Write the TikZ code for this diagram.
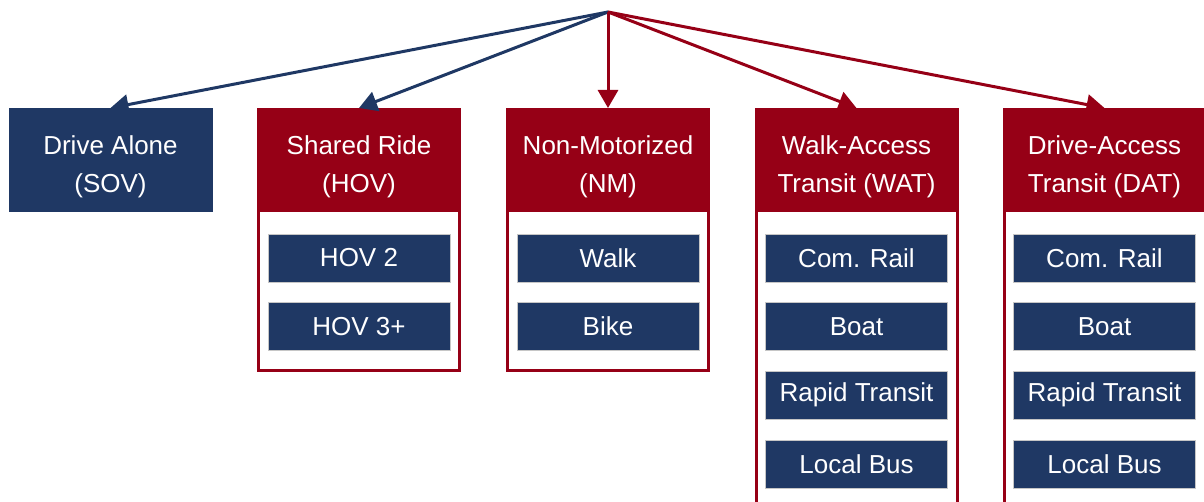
\documentclass[tikz,border=0pt]{standalone}
\usepackage{fontspec}
\setmainfont{Liberation Sans}
\usetikzlibrary{arrows.meta,positioning}
\definecolor{navy}{RGB}{31,56,100}
\definecolor{wine}{RGB}{150,0,22}
\tikzset{
  head/.style={fill=wine, text=white, minimum width=153pt, minimum height=78pt,
    inner sep=0pt, align=center, font=\fontsize{19.5}{28.5}\selectfont,
    text height=53pt},
  sovbox/.style={head, fill=navy},
  outline/.style={draw=wine, line width=2.25pt, minimum width=150.75pt, inner sep=0pt},
  mode/.style={fill=navy, draw=gray!45, line width=0.5pt, text=white,
    minimum width=136.5pt, minimum height=36pt, inner sep=0pt,
    font=\fontsize{19.5}{24}\selectfont},
  link/.style={line width=2.25pt, -{Triangle[width=15pt,length=13.5pt]}}
}

\begin{document}
\begin{tikzpicture}[x=0.75pt, y=-0.75pt, node distance=15pt]
\useasboundingbox (0,0) rectangle (1204,502);
\clip (0,0) rectangle (1204,502);

\coordinate (root) at (608,12);

% outlines
\node[outline, minimum height=195pt, anchor=north] (hovframe) at (359,109.5) {};
\node[outline, minimum height=195pt, anchor=north] (nmframe) at (608,109.5) {};
\node[outline, minimum height=320pt, anchor=north] (watframe) at (856.5,109.5) {};
\node[outline, minimum height=320pt, anchor=north] (datframe) at (1104.5,109.5) {};

% headers
\node[sovbox, anchor=north] (sov) at (110.5,108) {Drive Alone\\(SOV)};
\node[head, anchor=north] (hov) at (359,108) {Shared Ride\\(HOV)};
\node[head, anchor=north] (nm) at (608,108) {Non-Motorized\\(NM)};
\node[head, anchor=north] (wat) at (856.5,108) {Walk-Access\\Transit (WAT)};
\node[head, anchor=north] (dat) at (1104.5,108) {Drive-Access\\Transit (DAT)};

% shared ride
\node[mode, below=15.75pt of hov] (hovtwo) {HOV 2};
\node[mode, below=of hovtwo] (hovthree) {HOV 3+};

% non-motorized
\node[mode, below=15.75pt of nm] (walk) {Walk};
\node[mode, below=of walk] (bike) {Bike};

% walk access
\node[mode, below=15.75pt of wat] (watrail) {Com. Rail};
\node[mode, below=of watrail] (watboat) {Boat};
\node[mode, below=of watboat] (watrapid) {Rapid Transit};
\node[mode, below=of watrapid] (watbus) {Local Bus};

% drive access
\node[mode, below=15.75pt of dat] (datrail) {Com. Rail};
\node[mode, below=of datrail] (datboat) {Boat};
\node[mode, below=of datboat] (datrapid) {Rapid Transit};
\node[mode, below=of datrapid] (datbus) {Local Bus};

% arrows
\draw[link, navy] (root) -- (sov.north);
\draw[link, navy] (root) -- (hov.north);
\draw[link, wine] (root) -- (nm.north);
\draw[link, wine] (root) -- (wat.north);
\draw[link, wine] (root) -- (dat.north);

\end{tikzpicture}
\end{document}
